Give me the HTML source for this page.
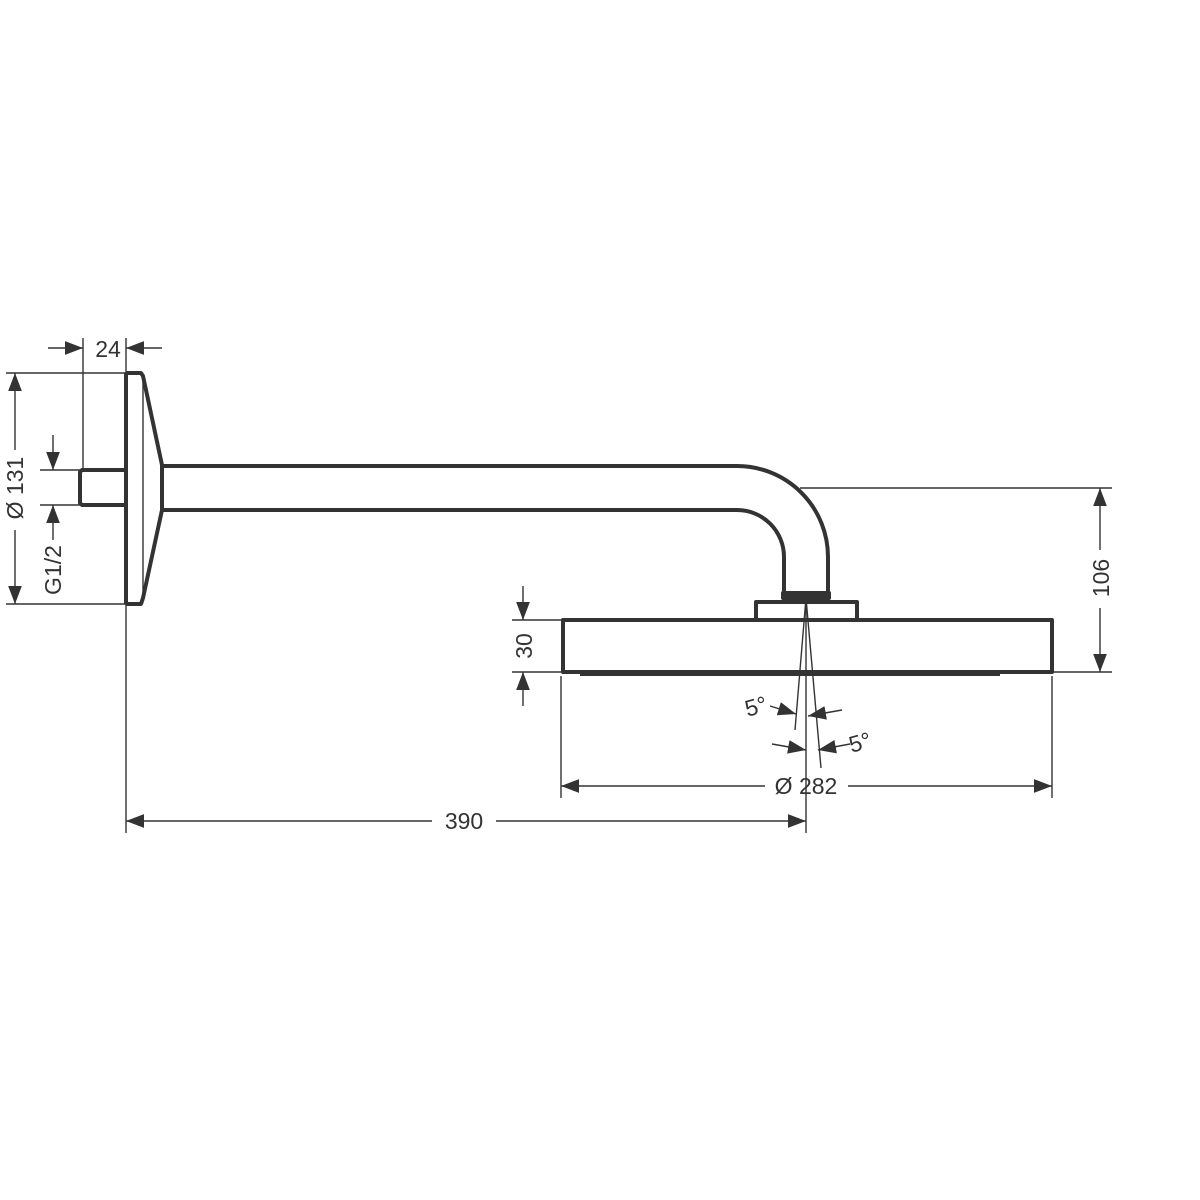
<!DOCTYPE html>
<html><head><meta charset="utf-8"><style>html,body{margin:0;padding:0;background:#fff}svg{display:block}</style></head>
<body>
<svg width="1200" height="1200" viewBox="0 0 1200 1200" xmlns="http://www.w3.org/2000/svg" font-family="Liberation Sans, sans-serif" font-size="23" fill="none" stroke="#333">
<defs>
<marker id="a" viewBox="0 0 10 10" refX="10" refY="5" markerWidth="18" markerHeight="18" markerUnits="userSpaceOnUse" orient="auto"><path d="M0,1.2 L10,5 L0,8.8 z" fill="#333" stroke="none"/></marker>
</defs>
<g stroke-width="4" stroke-linejoin="round">
<path d="M126,373 L126,604 M126,373 L141,373 L143,376 L162,465 L162,510 L143,598 L141,604 L126,604"/>
<path d="M125,470 L82,470 L80,472 L80,503 L82,505 L125,505"/>
<path d="M162,466 L737,466 A91,91 0 0 1 828,557 L828,594"/>
<path d="M162,510 L737,510 A47,47 0 0 1 784,557 L784,594"/>
<rect x="783" y="593" width="46" height="5" fill="#333"/>
<path d="M756,620 L756,602 L857,602 L857,620"/>
<path d="M563,620 L1052,620 L1052,672 L563,672 Z"/>
</g>
<rect x="580" y="672" width="420" height="4" fill="#333" stroke="none"/>
<g stroke-width="1.4">
<line x1="143" y1="376" x2="143" y2="598"/>
<line x1="83" y1="338" x2="83" y2="468"/>
<line x1="126" y1="338" x2="126" y2="373"/>
<line x1="48" y1="348" x2="83" y2="348" marker-end="url(#a)"/>
<line x1="162" y1="348" x2="126" y2="348" marker-end="url(#a)"/>
<line x1="6" y1="373" x2="126" y2="373"/>
<line x1="6" y1="604" x2="126" y2="604"/>
<line x1="15" y1="450" x2="15" y2="373" marker-end="url(#a)"/>
<line x1="15" y1="530" x2="15" y2="604" marker-end="url(#a)"/>
<line x1="40" y1="470" x2="80" y2="470"/>
<line x1="40" y1="505" x2="80" y2="505"/>
<line x1="53" y1="435" x2="53" y2="470" marker-end="url(#a)"/>
<line x1="53" y1="540" x2="53" y2="505" marker-end="url(#a)"/>
<line x1="800" y1="488" x2="1112" y2="488"/>
<line x1="1052" y1="672" x2="1112" y2="672"/>
<line x1="1100" y1="550" x2="1100" y2="488" marker-end="url(#a)"/>
<line x1="1100" y1="608" x2="1100" y2="672" marker-end="url(#a)"/>
<line x1="512" y1="620" x2="561" y2="620"/>
<line x1="512" y1="672" x2="561" y2="672"/>
<line x1="523" y1="586" x2="523" y2="620" marker-end="url(#a)"/>
<line x1="523" y1="706" x2="523" y2="672" marker-end="url(#a)"/>
<line x1="561" y1="676" x2="561" y2="798"/>
<line x1="1052" y1="676" x2="1052" y2="798"/>
<line x1="765" y1="786" x2="561" y2="786" marker-end="url(#a)"/>
<line x1="848" y1="786" x2="1052" y2="786" marker-end="url(#a)"/>
<line x1="126" y1="604" x2="126" y2="833"/>
<line x1="806" y1="598" x2="806" y2="833"/>
<line x1="432" y1="821" x2="126" y2="821" marker-end="url(#a)"/>
<line x1="496" y1="821" x2="806" y2="821" marker-end="url(#a)"/>
<line x1="806" y1="598" x2="795" y2="730"/>
<line x1="806" y1="598" x2="821" y2="768"/>
<line x1="770" y1="706" x2="796" y2="714" marker-end="url(#a)"/>
<line x1="842" y1="710" x2="808" y2="716" marker-end="url(#a)"/>
<line x1="772" y1="744" x2="806" y2="750" marker-end="url(#a)"/>
<line x1="850" y1="744" x2="818" y2="750" marker-end="url(#a)"/>
</g>
<g fill="#333" stroke="none">
<text x="108" y="357" text-anchor="middle">24</text>
<text transform="translate(23,488) rotate(-90)" text-anchor="middle">Ø 131</text>
<text transform="translate(61,570) rotate(-90)" text-anchor="middle">G1/2</text>
<text transform="translate(1109,578) rotate(-90)" text-anchor="middle">106</text>
<text transform="translate(532,646) rotate(-90)" text-anchor="middle">30</text>
<text x="806" y="794" text-anchor="middle">Ø 282</text>
<text x="464" y="829" text-anchor="middle">390</text>
<text transform="translate(758,714) rotate(-15)" text-anchor="middle">5°</text>
<text transform="translate(862,750) rotate(-15)" text-anchor="middle">5°</text>
</g>
</svg>
</body></html>
